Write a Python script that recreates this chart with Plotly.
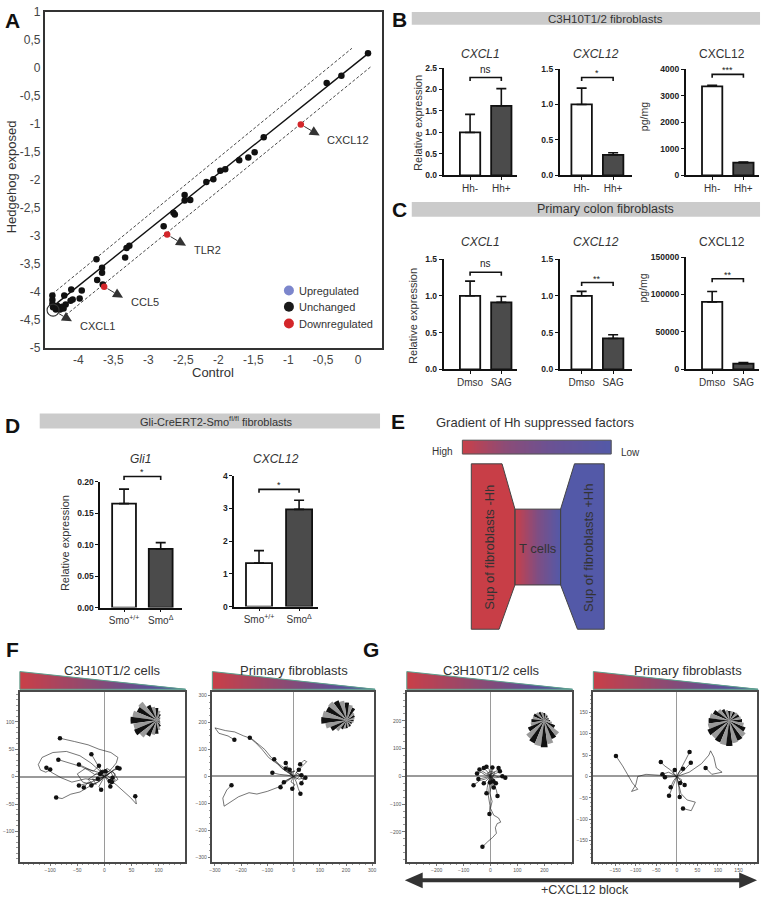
import math
import plotly.graph_objects as go

W, H = 765, 905
FONT = "Arial, Liberation Sans, Helvetica, sans-serif"
TXT = "#333333"
CANVAS = 18

# ---------------------------------------------------------------- data
# Panel A : scatter of log expression, control vs hedgehog exposed
a_control = [0.14, -0.24, -0.45, -1.35, -1.48, -1.57, -1.70, -1.90, -1.97, -2.07,
             -2.17, -2.48, -2.48, -2.40, -2.64, -2.62, -2.78, -3.27, -3.31, -3.33,
             -3.74, -3.66, -3.66, -3.73, -3.65, -4.10, -3.95, -3.98, -4.08, -4.11,
             -4.20, -4.18, -4.37, -4.37, -4.37, -4.36, -4.32, -4.26, -4.23, -4.30, -4.21]
a_hedgehog = [0.26, -0.14, -0.27, -1.24, -1.51, -1.60, -1.65, -1.81, -1.84, -1.99,
              -2.04, -2.27, -2.37, -2.36, -2.59, -2.62, -2.83, -3.18, -3.22, -3.39,
              -3.42, -3.57, -3.66, -3.79, -3.87, -3.96, -3.98, -4.12, -4.14, -4.16,
              -4.07, -4.23, -4.07, -4.15, -4.22, -4.28, -4.32, -4.32, -4.27, -4.25, -4.30]
a_down_control = [-0.82, -2.73, -3.63]
a_down_hedgehog = [-1.01, -2.98, -3.91]
a_down_genes = ["CXCL12", "TLR2", "CCL5"]
a_cxcl1_control = [-4.36]
a_cxcl1_hedgehog = [-4.33]
a_fit_control = [-4.30, 0.175]
a_fit_hedgehog = [-4.20, 0.29]
a_upper_control = [-4.37, -0.09]
a_upper_hedgehog = [-4.04, 0.35]
a_lower_control = [-4.18, 0.19]
a_lower_hedgehog = [-4.42, 0.03]
a_xticks = [-4, -3.5, -3, -2.5, -2, -1.5, -1, -0.5, 0]
a_yticks = [1, 0.5, 0, -0.5, -1, -1.5, -2, -2.5, -3, -3.5, -4, -4.5, -5]
a_legend_labels = ["Upregulated", "Unchanged", "Downregulated"]

# Panels B, C, D : bar charts (mean, sem)
b_cats = ["Hh-", "Hh+"]
b1_mean = [1.0, 1.62];   b1_sem = [0.42, 0.40]
b2_mean = [1.0, 0.29];   b2_sem = [0.23, 0.03]
b3_mean = [3350, 480];   b3_sem = [40, 25]
b_sig = ["ns", "*", "***"]
b_sig_y = [2.28, 1.38, 3800]

c_cats = ["Dmso", "SAG"]
c1_mean = [1.0, 0.91];    c1_sem = [0.20, 0.08]
c2_mean = [1.0, 0.42];    c2_sem = [0.06, 0.05]
c3_mean = [90000, 7500];  c3_sem = [14000, 1500]
c_sig = ["ns", "**", "**"]
c_sig_y = [1.32, 1.18, 121000]

d_cats = ["Smo<sup>+/+</sup>", "Smo<sup>Δ</sup>"]
d1_mean = [0.165, 0.093]; d1_sem = [0.023, 0.010]
d2_mean = [1.33, 2.97];   d2_sem = [0.38, 0.28]
d_sig = ["*", "*"]
d_sig_y = [0.208, 3.58]

# Panels F, G : cell tracks (µm) ending with a dot
f1_tracks_x = [[0, 6, 14, 22, 25, 12, -10, -30, -55, -82],
               [0, -8, -18, -30, -42, -55, -70, -85],
               [0, -10, -25, -45, -70, -95, -115, -122, -118, -108, -100],
               [0, -15, -35, -60, -80, -98, -107],
               [0, -12, -28, -45, -62, -78, -89],
               [0, 10, 22, 35, 48, 59, 57],
               [0, -6, -12, -18, -24],
               [0, -12, -25, -37, -47],
               [0, 8, 16, 24],
               [0, -14, -30, -47],
               [0, -8, -16, -24],
               [0, 5, 8, 11],
               [0, 10, 18, 28],
               [0, -5, -10, -6],
               [0, 6, 12, 15],
               [0, -4, -8],
               [0, 5, 10],
               [0, 3, 2],
               [0, -6, -12],
               [0, -15, -30, -20, -40, -50, -35, -20, -10],
               [0, 15, 25, 10, 20, 5, -5],
               [0, -10, -22, -15, -30, -38],
               [0, 8, -4, 12, 20, 14]]
f1_tracks_y = [[0, 8, 15, 25, 35, 44, 50, 58, 64, 70],
               [0, 6, 4, 12, 18, 22, 26, 31],
               [0, 12, 25, 38, 46, 44, 35, 22, 12, 8, 13],
               [0, -6, -4, -10, -2, 8, 16],
               [0, -10, -18, -28, -32, -40, -38],
               [0, -6, -15, -26, -38, -50, -36],
               [0, 10, 20, 32, 41],
               [0, 8, 12, 18, 22],
               [0, 4, 12, 16],
               [0, -6, -12, -16],
               [0, -8, -12, -16],
               [0, -6, -12, -18],
               [0, 6, 12, 15],
               [0, -8, -18, -24],
               [0, 2, -4, -2],
               [0, 2, 5],
               [0, -3, -8],
               [0, 5, 10],
               [0, -2, -4],
               [0, 5, -5, -15, -10, 5, 15, 10, 20],
               [0, 10, -5, -15, 5, 15, 8],
               [0, -8, -4, -14, -10, -20],
               [0, 6, 12, 8, -6, -10]]

f2_tracks_x = [[0, -25, -55, -85, -110, -135, -160, -190, -225, -260, -300, -285, -250, -226],
               [0, -30, -60, -95, -120, -145, -167],
               [0, -20, -45, -60, -74],
               [0, -10, -22, -30],
               [0, 15, 35, 50, 40, 25],
               [0, -30, -60, -100, -140, -170, -210, -240, -265, -270, -255, -237],
               [0, 10, 18, 26],
               [0, -15, -28, -37],
               [0, -25, -55, -81],
               [0, 20, 40, 30],
               [0, -20, -40, -50],
               [0, 15, 30],
               [0, -10, -15],
               [0, 20, 35, 45],
               [0, -10, 5, -5],
               [0, -15, 5, -20, -30],
               [0, 12, 25, 10, 20]]
f2_tracks_y = [[0, 25, 45, 70, 100, 120, 140, 150, 165, 170, 180, 160, 150, 136],
               [0, 20, 45, 70, 100, 125, 143],
               [0, 15, 30, 50, 64],
               [0, 20, 35, 50],
               [0, 20, 40, 55, 60, 45],
               [0, -15, -40, -55, -65, -60, -75, -95, -110, -80, -50, -32],
               [0, -20, -45, -64],
               [0, -8, -15, -21],
               [0, 5, 8, 14],
               [0, -10, -5, -25],
               [0, -15, -25, -40],
               [0, 10, 5],
               [0, 12, 25],
               [0, 5, -10, -5],
               [0, -20, -30, -45],
               [0, 10, 20, 15, 30],
               [0, -10, 5, 15, 25]]

g1_tracks_x = [[0, 5, -3, 6, 0, 12, 30, 38, 25, 18, 22, 8, -10, -22, -30],
               [0, -20, -40, -55, -63],
               [0, -3, -8, -2, -4],
               [0, 10, 22, 26],
               [0, -8, -12, -15],
               [0, -15, -30, -41],
               [0, 3, 5, 7],
               [0, 15, 30, 44],
               [0, 20, 40, 55],
               [0, -20, -35, -50],
               [0, 10, 25, 30],
               [0, -15, -25],
               [0, 15, 20],
               [0, -10, -25],
               [0, 20, 35],
               [0, -30, -45],
               [0, 5, 12],
               [0, -5, -15],
               [0, -12, 8, -6, 10],
               [0, 14, -6, 16, -2]]
g1_tracks_y = [[0, -30, -60, -90, -115, -140, -150, -165, -170, -185, -205, -220, -235, -245, -254],
               [0, -10, -15, -28, -32],
               [0, -35, -70, -105, -136],
               [0, -25, -50, -71],
               [0, -20, -40, -61],
               [0, 10, 18, 25],
               [0, 12, 22, 32],
               [0, 3, -2, 0],
               [0, -5, -2, -5],
               [0, 5, 15, 10],
               [0, 15, 20, 30],
               [0, -15, -25],
               [0, -10, -25],
               [0, 15, 30],
               [0, 10, 18],
               [0, -5, -10],
               [0, -20, -40],
               [0, 25, 35],
               [0, 12, 20, -10, -18],
               [0, -14, 6, 14, -22]]

g2_tracks_x = [[0, -20, -45, -75, -95, -100, -110, -95, -108, -120, -132, -148],
               [0, -15, -30, -39],
               [0, 12, 22, 31],
               [0, 18, 34],
               [0, -15, -29],
               [0, -10, -19],
               [0, 5, 7],
               [0, 10, 25, 45, 35, 15],
               [0, 10, 19],
               [0, 30, 60, 78, 82, 90, 96, 110, 85, 70],
               [0, -10, -5],
               [0, 12, 8],
               [0, -8, -15],
               [0, 5, 15],
               [0, -20, -35]]
g2_tracks_y = [[0, 2, 3, 5, 0, -20, -35, -30, -15, 5, 25, 48],
               [0, 15, 25, 34],
               [0, 20, 40, 57],
               [0, 15, 32],
               [0, -1, -2],
               [0, -22, -45],
               [0, -25, -48],
               [0, -40, -55, -60, -80, -75],
               [0, -10, -20],
               [0, 10, 30, 50, 60, 45, 20, 10, 5, 20],
               [0, 8, 15],
               [0, -8, -15],
               [0, -10, -25],
               [0, 10, 18],
               [0, 10, 5]]

# Rose (angular histogram) insets: bin angle (deg) and counts
rose_theta = [0, 15, 30, 45, 60, 75, 90, 105, 120, 135, 150, 165,
              180, 195, 210, 225, 240, 255, 270, 285, 300, 315, 330, 345]
f1_rose = [3, 3.5, 4, 5, 7, 10, 12.5, 14, 17, 23.7, 22, 25, 26.7, 24, 25, 22, 18, 15, 13.7, 10, 7, 5, 4, 3]
f2_rose = [7, 8, 9, 10, 14, 16, 18, 20, 22, 24, 23, 25, 26, 22, 18, 14, 10, 9, 8, 7, 7, 6, 6, 7]
g1_rose = [6, 5, 5, 5, 6, 7, 8, 9, 10, 11, 12, 12, 13, 14, 18, 23, 25, 26, 27, 24, 20, 19, 12, 8]
g2_rose = [13, 12, 11, 11, 10, 10, 10, 11, 13, 15, 18, 20, 21, 22, 24, 23, 24, 25, 25.7, 23, 22, 21, 18, 15]

# ---------------------------------------------------------------- helpers
layout = dict(width=W, height=H, margin=dict(l=0, r=0, t=0, b=0, pad=0),
              paper_bgcolor="white", plot_bgcolor="rgba(0,0,0,0)",
              showlegend=False, font=dict(family=FONT, color=TXT, size=10))
traces, shapes, annotations = [], [], []
AX = {}
BASE = dict(showgrid=False, zeroline=False, fixedrange=True)


def xr_(i):
    return "x" if i == 1 else f"x{i}"


def yr_(i):
    return "y" if i == 1 else f"y{i}"


def add_axes(i, px, xrange, yrange, xkw, ykw):
    x0, x1, y0, y1 = px
    AX[i] = (px, xrange, yrange)
    xa = dict(BASE); xa.update(domain=[x0 / W, x1 / W], range=xrange, anchor=yr_(i)); xa.update(xkw)
    ya = dict(BASE); ya.update(domain=[1 - y1 / H, 1 - y0 / H], range=yrange, anchor=xr_(i)); ya.update(ykw)
    layout["xaxis" if i == 1 else f"xaxis{i}"] = xa
    layout["yaxis" if i == 1 else f"yaxis{i}"] = ya


def to_px(i, x, y):
    (x0, x1, y0, y1), xrange, yrange = AX[i]
    px = x0 + (x - xrange[0]) / (xrange[1] - xrange[0]) * (x1 - x0)
    py = y1 - (y - yrange[0]) / (yrange[1] - yrange[0]) * (y1 - y0)
    return px, py


def text(s, x, y, size=10, color=TXT, xanchor="center", yanchor="middle", angle=0):
    annotations.append(dict(text=s, x=x, y=y, xref="x18", yref="y18", showarrow=False,
                            xanchor=xanchor, yanchor=yanchor, textangle=angle,
                            font=dict(size=size, color=color, family=FONT)))


def rect(x0, y0, x1, y1, fill, line=None, lw=0, layer="below"):
    shapes.append(dict(type="rect", x0=x0, x1=x1, y0=y0, y1=y1, xref="x18", yref="y18",
                       fillcolor=fill, line=dict(color=line or "rgba(0,0,0,0)", width=lw), layer=layer))


def poly(pts, fill, line=None, lw=0, closed=True, layer="above"):
    path = "M" + " L".join(f"{x:.2f},{y:.2f}" for x, y in pts) + (" Z" if closed else "")
    shapes.append(dict(type="path", path=path, xref="x18", yref="y18", fillcolor=fill,
                       line=dict(color=line or "rgba(0,0,0,0)", width=lw), layer=layer))


def arrow(x0, y0, x1, y1, color="#333", lw=1, head=10, half=5):
    dx, dy = x1 - x0, y1 - y0
    ln = math.hypot(dx, dy)
    ux, uy = dx / ln, dy / ln
    bx, by = x1 - ux * head, y1 - uy * head
    poly([(x0, y0), (bx, by)], "rgba(0,0,0,0)", color, lw, closed=False)
    poly([(x1, y1), (bx - uy * half, by + ux * half), (bx + uy * half, by - ux * half)], color)


GRAD_STEPS = [list(range(80))]


def gradient(x0, x1, y0, y1, scale):
    n = len(GRAD_STEPS[0])
    traces.append(go.Heatmap(z=GRAD_STEPS, x0=x0 + (x1 - x0) / n / 2, dx=(x1 - x0) / n,
                             y0=(y0 + y1) / 2, dy=(y1 - y0), colorscale=scale, showscale=False,
                             hoverinfo="skip", xaxis="x18", yaxis="y18"))


# canvas axis in pixel units (for decorations)
add_axes(CANVAS, (0, W, 0, H), [0, W], [H, 0], dict(visible=False), dict(visible=False))

# ---------------------------------------------------------------- panel A
def comma(vals):
    return [("%g" % v).replace(".", ",") for v in vals]


add_axes(1, (42, 382, 5, 346), [-4.48, 0.34], [-5.0, 1.0],
         dict(showline=True, mirror=True, linecolor="#333", linewidth=1.5, ticks="",
              tickvals=a_xticks, ticktext=comma(a_xticks), tickfont=dict(size=12, color="#444")),
         dict(showline=True, mirror=True, linecolor="#333", linewidth=1.5, ticks="",
              tickvals=a_yticks, ticktext=comma(a_yticks), tickfont=dict(size=12, color="#444")))
for cx, cy, dash, wd, col in [(a_lower_control, a_lower_hedgehog, "3px,2px", 0.9, "#333"),
                              (a_upper_control, a_upper_hedgehog, "3px,2px", 0.9, "#333"),
                              (a_fit_control, a_fit_hedgehog, "solid", 1.4, "#111")]:
    traces.append(go.Scatter(x=cx, y=cy, mode="lines", line=dict(color=col, width=wd, dash=dash),
                             hoverinfo="skip", xaxis="x", yaxis="y"))
traces.append(go.Scatter(x=a_control, y=a_hedgehog, mode="markers",
                         marker=dict(size=6.5, color="#111"), xaxis="x", yaxis="y"))
traces.append(go.Scatter(x=a_down_control, y=a_down_hedgehog, mode="markers",
                         marker=dict(size=6.5, color="#d3262a"), xaxis="x", yaxis="y"))
traces.append(go.Scatter(x=a_cxcl1_control, y=a_cxcl1_hedgehog, mode="markers",
                         marker=dict(size=12, symbol="circle-open", color="#333", line=dict(width=1.1)),
                         xaxis="x", yaxis="y"))
leg_y = [-3.98, -4.27, -4.57]
traces.append(go.Scatter(x=[-0.99] * 3, y=leg_y, mode="markers", cliponaxis=False,
                         marker=dict(size=10, color=["#7c86cc", "#1a1a1a", "#d3262a"]),
                         xaxis="x", yaxis="y"))
for lab, yy in zip(a_legend_labels, leg_y):
    annotations.append(dict(text=lab, x=-0.88, y=yy, xref="x", yref="y", showarrow=False,
                            xanchor="left", yanchor="middle", font=dict(size=11, color="#333")))
for cx, cy, name, gap in zip(a_down_control + a_cxcl1_control, a_down_hedgehog + a_cxcl1_hedgehog,
                             a_down_genes + ["CXCL1"], [4, 4, 4, 7]):
    px0, py0 = to_px(1, cx, cy)
    hx, hy = to_px(1, cx + 0.27, cy - 0.2)
    d = math.hypot(hx - px0, hy - py0)
    arrow(px0 + (hx - px0) / d * gap, py0 + (hy - py0) / d * gap, hx, hy)
    annotations.append(dict(text=name, x=cx + 0.35, y=cy - 0.28, xref="x", yref="y",
                            showarrow=False, xanchor="left", yanchor="middle",
                            font=dict(size=11, color="#333")))
text("Hedgehog exposed", 8, 172, 13, angle=-90)
text("Control", 212, 371, 13)
text("<b>A</b>", 10, 14, 21, color="#111")

# ---------------------------------------------------------------- bar panels
BAR_FILL = ["white", "#4b4b4b"]


def bar_panel(i, px, cats, mean, sem, yticks, fmt, xrange, title, sig, sig_y, title_y):
    add_axes(i, px, xrange, [0, yticks[-1]],
             dict(showline=True, linecolor="#111", linewidth=1.5, ticks="outside", ticklen=3,
                  tickwidth=1.2, tickcolor="#111", tickvals=[0, 1], ticktext=cats,
                  tickfont=dict(size=10, color="#333")),
             dict(showline=True, linecolor="#111", linewidth=1.5, ticks="outside", ticklen=3,
                  tickwidth=1.2, tickcolor="#111", tickvals=yticks, tickformat=fmt,
                  tickfont=dict(size=8.5, color="#222", weight="bold")))
    traces.append(go.Bar(x=[0, 1], y=mean, width=0.65,
                         marker=dict(color=BAR_FILL, line=dict(color="#111", width=1.8)),
                         error_y=dict(type="data", array=sem, arrayminus=[0, 0], symmetric=False,
                                      color="#111", thickness=1.6, width=5),
                         xaxis=xr_(i), yaxis=yr_(i)))
    xa, ya = to_px(i, 0, sig_y)
    xb, _ = to_px(i, 1, sig_y)
    poly([(xa, ya + 3.5), (xa, ya), (xb, ya), (xb, ya + 3.5)], "rgba(0,0,0,0)", "#111", 1.6,
         closed=False)
    if sig == "ns":
        text(sig, (xa + xb) / 2, ya - 1, 10, color="#222", yanchor="bottom")
    else:
        text(sig, (xa + xb) / 2, ya + 3, 9, color="#222", yanchor="bottom")
    text(title, (px[0] + px[1]) / 2, title_y, 12)


XR = [-0.85, 1.5]
XR2 = [-0.7, 1.6]

# B
rect(412, 5, 763, 18, "#cbcbcb")
text("C3H10T1/2 fibroblasts", 607, 12, 11.5)
text("<b>B</b>", 400, 13, 21, color="#111")
bar_panel(2, (444, 518, 62, 171), b_cats, b1_mean, b1_sem, [0, 0.5, 1, 1.5, 2, 2.5], ".1f", XR,
          "<i>CXCL1</i>", b_sig[0], b_sig_y[0], 48)
bar_panel(3, (561, 634, 63, 171), b_cats, b2_mean, b2_sem, [0, 0.5, 1, 1.5], ".1f", XR2,
          "<i>CXCL12</i>", b_sig[1], b_sig_y[1], 48)
bar_panel(4, (688, 762, 63, 171), b_cats, b3_mean, b3_sem, [0, 1000, 2000, 3000, 4000], "d", XR,
          "CXCL12", b_sig[2], b_sig_y[2], 48)
text("Relative expression", 418, 118, 11, angle=-90)
text("pg/mg", 646, 111, 10.5, angle=-90)

# C
rect(412, 198, 763, 213, "#cbcbcb")
text("Primary colon fibroblasts", 607, 205.5, 12.5)
text("<b>C</b>", 400, 206, 21, color="#111")
bar_panel(5, (444, 518, 256, 368), c_cats, c1_mean, c1_sem, [0, 0.5, 1, 1.5], ".1f", XR,
          "<i>CXCL1</i>", c_sig[0], c_sig_y[0], 239)
bar_panel(6, (561, 634, 256, 368), c_cats, c2_mean, c2_sem, [0, 0.5, 1, 1.5], ".1f", XR2,
          "<i>CXCL12</i>", c_sig[1], c_sig_y[1], 239)
bar_panel(7, (688, 762, 254, 368), c_cats, c3_mean, c3_sem, [0, 50000, 100000, 150000], "d", XR,
          "CXCL12", c_sig[2], c_sig_y[2], 239)
text("Relative expression", 413, 314, 11, angle=-90)
text("pg/mg", 645, 285, 10.5, angle=-90)

# D
rect(37, 413, 380, 428, "#cbcbcb")
text("Gli-CreERT2-Smo<sup>fl/fl</sup> fibroblasts", 215, 421, 11)
text("<b>D</b>", 10, 425, 21, color="#111")
bar_panel(8, (98, 180, 482, 610), d_cats, d1_mean, d1_sem, [0, 0.05, 0.1, 0.15, 0.2], ".2f",
          [-0.65, 1.57], "<i>Gli1</i>", d_sig[0], d_sig_y[0], 459)
bar_panel(9, (233, 317, 476, 609), d_cats, d2_mean, d2_sem, [0, 1, 2, 3, 4], "d",
          [-0.62, 1.46], "<i>CXCL12</i>", d_sig[1], d_sig_y[1], 459)
text("Relative expression", 62, 545, 11, angle=-90)

# ---------------------------------------------------------------- panel E
E_SCALE = [[0, "#c8404a"], [0.3, "#8a4c78"], [0.6, "#6a5294"], [1, "#5359a8"]]
text("<b>E</b>", 398, 421, 21, color="#111")
text("Gradient of Hh suppressed factors", 434, 422, 13, xanchor="left")
gradient(463, 613, 440, 454, E_SCALE)
rect(463, 440, 613, 454, "rgba(0,0,0,0)", "#555", 1, layer="above")
text("High", 456, 451, 10, xanchor="right")
text("Low", 621, 452, 10, xanchor="left")
poly([(472, 464), (503, 464), (516, 510), (516, 587), (500, 632), (472, 632)], "#c83e47", "#444", 1)
poly([(562, 510), (576, 464), (606, 464), (606, 632), (579, 632), (562, 587)], "#5359a8", "#444", 1)
gradient(516, 562, 510, 587, [[0, "#c8404a"], [0.5, "#7e4e84"], [1, "#5359a8"]])
rect(516, 510, 562, 587, "rgba(0,0,0,0)", "#444", 1, layer="above")
text("T cells", 539, 550, 13)
text("Sup of fibroblasts -Hh", 490, 549, 13, angle=-90)
text("Sup of fibroblasts +Hh", 590, 549, 13, angle=-90)

# ---------------------------------------------------------------- panels F, G
TRI_SCALE = [[0, "#c93f48"], [0.45, "#8a4a74"], [0.8, "#5c4f98"], [1, "#4d6a9c"]]


def triangle(x0, x1, y0=675, y1=693):
    gradient(x0, x1, y0, y1, TRI_SCALE)
    poly([(x0 - 1, y0 - 1), (x1 + 3, y0 - 1), (x1 + 3, y1), (x0, y0)], "white", None, 0)
    poly([(x0, y0), (x1, y1), (x0, y1)], "rgba(0,0,0,0)", "#5aa08c", 1)


def track_panel(i, px, xrange, yrange, tv, minor_dt, tx, ty, title, title_x):
    common = dict(showline=True, mirror=True, linecolor="#4a4a4a", linewidth=2, ticks="outside",
                  ticklen=2.5, tickwidth=0.8, tickcolor="#777", tickvals=tv,
                  tickfont=dict(size=5, color="#555"), zeroline=True, zerolinecolor="#9a9a9a",
                  minor=dict(ticks="outside", ticklen=1.5, tickwidth=0.6, tickcolor="#999",
                             dtick=minor_dt, tick0=0))
    xk = dict(common); xk["zerolinewidth"] = 1.2
    yk = dict(common); yk["zerolinewidth"] = 2
    add_axes(i, px, xrange, yrange, xk, yk)
    xs, ys = [], []
    for a, b in zip(tx, ty):
        xs += a + [None]
        ys += b + [None]
    traces.append(go.Scatter(x=xs, y=ys, mode="lines", line=dict(color="#1a1a1a", width=0.6),
                             hoverinfo="skip", xaxis=xr_(i), yaxis=yr_(i)))
    traces.append(go.Scatter(x=[a[-1] for a in tx], y=[b[-1] for b in ty], mode="markers",
                             marker=dict(size=4.5, color="#111"), xaxis=xr_(i), yaxis=yr_(i)))
    triangle(px[0], px[1] + 1)
    text(title, title_x, 674, 13)


track_panel(10, (17, 183, 696, 868), [-156, 148], [-155, 154], [-100, -50, 0, 50, 100], 10,
            f1_tracks_x, f1_tracks_y, "C3H10T1/2 cells", 110)
track_panel(11, (211, 374, 696, 868), [-310, 307], [-315, 312],
            [-300, -200, -100, 0, 100, 200, 300], 25, f2_tracks_x, f2_tracks_y,
            "Primary fibroblasts", 293)
track_panel(12, (407, 573, 696, 868), [-311, 301], [-307, 303], [-200, -100, 0, 100, 200], 25,
            g1_tracks_x, g1_tracks_y, "C3H10T1/2 cells", 492)
track_panel(13, (595, 760, 696, 868), [-203, 195], [-199, 197], [-150, -100, -50, 0, 50, 100, 150], 10,
            g2_tracks_x, g2_tracks_y, "Primary fibroblasts", 690)
text("<b>F</b>", 10, 653, 21, color="#111")
text("<b>G</b>", 371, 653, 21, color="#111")

INSETS = [(14, (127, 183, 696, 753), f1_rose, "polar"),
          (15, (319, 374, 696, 753), f2_rose, "polar2"),
          (16, (518, 573, 696, 754), g1_rose, "polar3"),
          (17, (704, 760, 696, 754), g2_rose, "polar4")]
ROSE_COLORS = ["#111111" if k % 2 == 0 else "#9a9a9a" for k in range(len(rose_theta))]
for i, px, rose, pname in INSETS:
    ik = dict(showline=True, linecolor="#aaa", linewidth=0.8, ticks="outside", ticklen=1.5,
              tickwidth=0.6, tickcolor="#aaa", tickvals=[-1, -0.5, 0, 0.5, 1],
              ticktext=["-10", "-5", "0", "5", "10"], tickfont=dict(size=3, color="#888"),
              minor=dict(ticks="outside", ticklen=1, dtick=0.25, tickcolor="#bbb"))
    add_axes(i, px, [-1, 1], [-1, 1], ik, ik)
    cx, cy, R = (px[0] + px[1]) / 2, (px[2] + px[3]) / 2, 28
    layout[pname] = dict(domain=dict(x=[(cx - R) / W, (cx + R) / W], y=[1 - (cy + R) / H, 1 - (cy - R) / H]),
                         radialaxis=dict(visible=False, range=[0, R]),
                         angularaxis=dict(visible=False, rotation=0, direction="counterclockwise"),
                         bgcolor="rgba(0,0,0,0)")
    traces.append(go.Barpolar(r=rose, theta=rose_theta, width=[15] * len(rose_theta),
                              marker=dict(color=ROSE_COLORS, line=dict(width=0)),
                              subplot=pname, hoverinfo="skip"))

# double arrow +CXCL12 block
rect(418, 885, 747, 889, "#333", layer="above")
poly([(405, 887), (423, 879), (423, 895)], "#333")
poly([(760, 887), (742, 879), (742, 895)], "#333")
text("+CXCL12 block", 587, 897, 12.5)

layout["shapes"] = shapes
layout["annotations"] = annotations
fig = go.Figure(data=traces, layout=layout)
fig.write_html("out.html", config={"displayModeBar": False},
               post_script="document.body.style.margin='0px';document.body.style.padding='0px';"
                           "document.body.style.overflow='hidden';")
